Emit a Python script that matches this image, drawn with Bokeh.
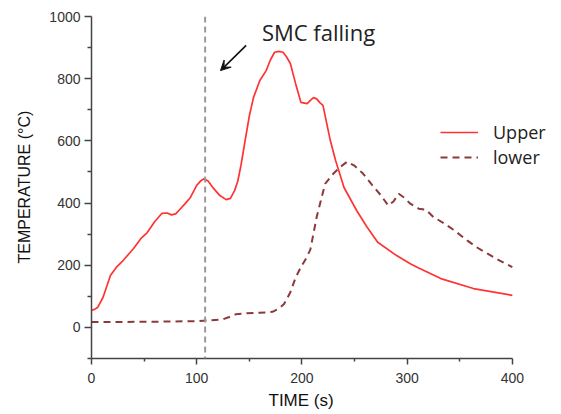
from bokeh.plotting import figure
from bokeh.models import (Range1d, Span, Label, Arrow, VeeHead, Legend, LegendItem,
                          FixedTicker, Title)
from bokeh.embed import file_html
from bokeh.resources import INLINE

# ---- data ----
upper_time = [0, 3, 6, 11, 18, 24, 30, 40, 47, 53, 60, 67, 72, 76, 80, 83, 89, 94, 100,
              104, 107, 111, 116, 122, 128, 132, 136, 139, 142, 146, 150, 154, 160, 166,
              170, 174, 178, 182, 185, 189, 194, 199, 205, 208, 211, 214, 217, 220, 227,
              232, 240, 252, 262, 272, 290, 303, 310, 332, 363, 400]
upper_temp = [55, 58, 65, 97, 167, 195, 215, 254, 286, 305, 340, 367, 368, 362, 365, 376,
              398, 418, 457, 472, 478, 470, 447, 424, 411, 415, 440, 470, 520, 601, 680,
              740, 794, 826, 860, 885, 888, 885, 872, 849, 784, 724, 720, 730, 739, 735,
              723, 714, 601, 537, 450, 376, 322, 274, 231, 205, 193, 157, 125, 103]

lower_time = [0, 50, 100, 110, 125, 132, 137, 145, 160, 172, 178, 183, 189, 194, 199, 204,
              208, 214, 218, 222, 230, 236, 243, 250, 258, 267, 275, 282, 287, 292, 297,
              303, 311, 318, 325, 335, 344, 357, 366, 376, 388, 400]
lower_temp = [17, 18, 20, 22, 26, 35, 42, 45, 47, 50, 60, 75, 113, 160, 194, 222, 250, 355,
              408, 462, 495, 515, 533, 520, 495, 457, 425, 392, 405, 430, 418, 398, 382,
              378, 355, 335, 314, 280, 258, 238, 215, 194]

series_names = ["Upper", "lower"]
event_time = 108
event_label = "SMC falling"
arrow_tail = (147, 907)
arrow_head = (122.6, 826)
label_pos = (162, 949)

x_ticks = [0, 100, 200, 300, 400]
x_minor = [50, 150, 250, 350]
y_ticks = [0, 200, 400, 600, 800, 1000]
y_minor = [-100, 100, 300, 500, 700, 900]

# ---- figure ----
# frame is extended to the right (axis line bounded to 0..400) so the legend fits
p = figure(width=561, height=414, output_backend="svg", toolbar_location=None,
           x_range=Range1d(0, 441), y_range=Range1d(-100, 1000),
           min_border_left=91, min_border_right=6, min_border_top=16,
           min_border_bottom=56)
p.outline_line_color = None
p.xgrid.visible = False
p.ygrid.visible = False
p.background_fill_color = "white"
p.border_fill_color = "white"

axis_color = "#444444"
for ax in (p.xaxis[0], p.yaxis[0]):
    ax.axis_line_color = axis_color
    ax.axis_line_width = 1.5
    ax.major_tick_line_color = axis_color
    ax.minor_tick_line_color = axis_color
    ax.major_tick_line_width = 1.5
    ax.minor_tick_line_width = 1.5
    ax.major_tick_in = 0
    ax.minor_tick_in = 0
    ax.major_label_text_font = "Liberation Sans"
    ax.major_label_text_font_size = "14px"
    ax.major_label_text_color = "#333333"

p.xaxis[0].bounds = (0, 400)
p.xaxis[0].ticker = FixedTicker(ticks=x_ticks, minor_ticks=x_minor)
p.yaxis[0].ticker = FixedTicker(ticks=y_ticks, minor_ticks=y_minor)
p.xaxis[0].major_tick_out = 6
p.xaxis[0].minor_tick_out = 3
p.yaxis[0].major_tick_out = 7
p.yaxis[0].minor_tick_out = 4
p.xaxis[0].major_label_standoff = 8
p.yaxis[0].major_label_standoff = 4

# axis titles, positioned along their axes like the reference
p.add_layout(Title(text="TIME (s)", align="left", offset=177,
                   text_font="Liberation Sans", text_font_size="17px",
                   text_font_style="normal", text_color="#111111",
                   standoff=6), "below")
p.add_layout(Title(text="TEMPERATURE (°C)", align="left", offset=95,
                   text_font="Liberation Sans", text_font_size="16px",
                   text_font_style="normal", text_color="#111111",
                   standoff=27), "left")

# event line
p.add_layout(Span(location=event_time, dimension="height", line_color="#999999",
                  line_width=2, line_dash="6 4"))

# curves
r_up = p.line(upper_time, upper_temp, line_color="#ff3333", line_width=1.7)
r_lo = p.line(lower_time, lower_temp, line_color="#8b3a3a", line_width=2,
              line_dash="7 5")

# annotation
p.add_layout(Arrow(end=VeeHead(size=10, fill_color="#111111", line_color="#111111"),
                   x_start=arrow_tail[0], y_start=arrow_tail[1],
                   x_end=arrow_head[0], y_end=arrow_head[1],
                   line_color="#111111", line_width=1.6))
p.add_layout(Label(x=label_pos[0], y=label_pos[1], text=event_label,
                   text_font="Open Sans", text_font_size="22px",
                   text_color="#222222", text_baseline="middle"))

legend_style = dict(glyph_width=38, glyph_height=20, label_standoff=15, spacing=0,
                    padding=0, margin=0, border_line_color=None,
                    background_fill_alpha=0, label_text_font="Open Sans",
                    label_text_font_size="18px", label_text_color="#222222",
                    label_height=18)
p.add_layout(Legend(items=[LegendItem(label=series_names[0], renderers=[r_up])],
                    location=(349, 214), **legend_style))
p.add_layout(Legend(items=[LegendItem(label=series_names[1], renderers=[r_lo])],
                    location=(349, 189), **legend_style))

open("out.html", "w").write(file_html(p, INLINE))
